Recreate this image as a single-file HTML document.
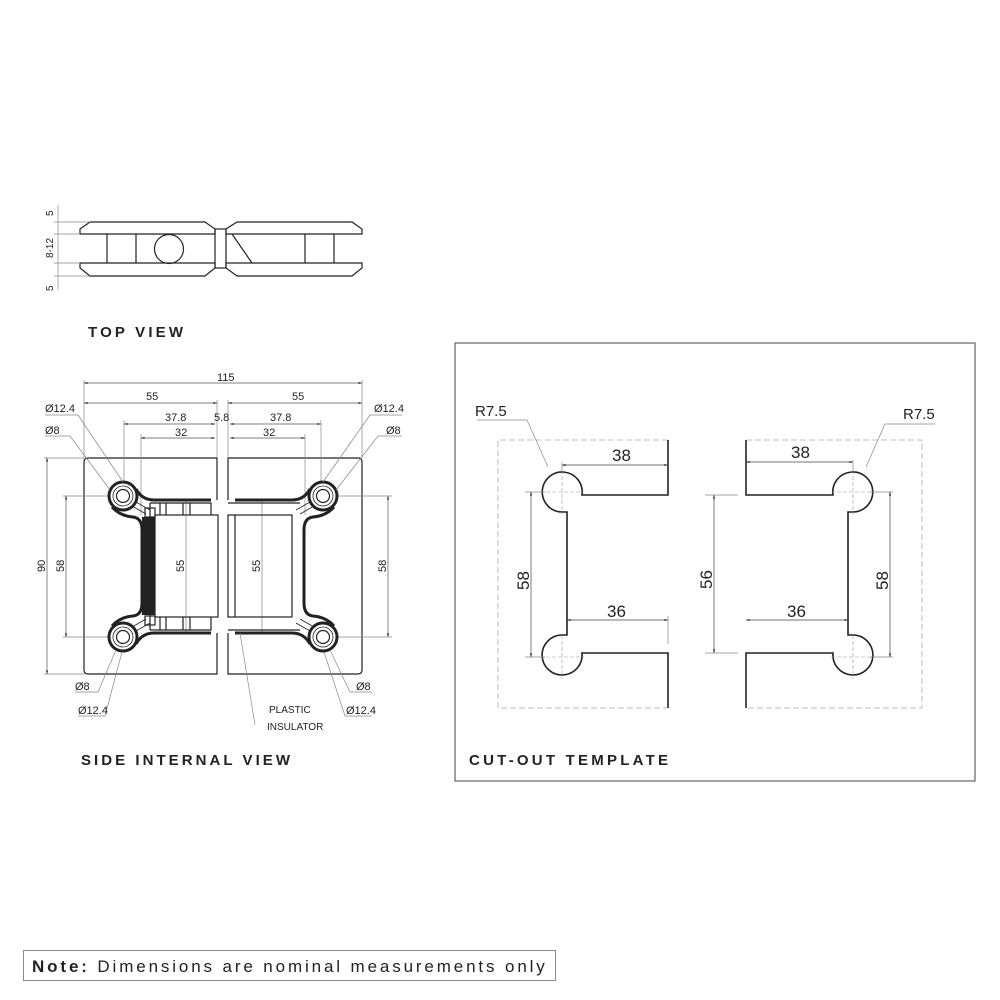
<!DOCTYPE html>
<html><head><meta charset="utf-8"><style>
html,body{margin:0;padding:0;background:#fff}
svg{display:block}
text{font-family:"Liberation Sans",sans-serif;fill:#222}
.th{stroke:#888;stroke-width:0.7;fill:none}
.m{stroke:#222;stroke-width:1.2;fill:none}
.k{stroke:#222;stroke-width:3;fill:none}
.h{font-weight:bold;font-size:15px;letter-spacing:2px}
</style></head><body>
<svg width="1000" height="1000" viewBox="0 0 1000 1000" xmlns="http://www.w3.org/2000/svg">
<defs>
<marker id="a" viewBox="0 0 10 10" refX="10" refY="5" markerWidth="7" markerHeight="5" orient="auto-start-reverse"><path d="M0,2 L10,5 L0,8z" fill="#222"/></marker>
</defs>

<!-- TOP VIEW -->
<g class="m">
<path d="M90,222 L205,222 L215,229 L215,234 L80,234 L80,229 Z"/>
<path d="M80,263 L215,263 L215,268 L205,276 L90,276 L80,268 Z"/>
<path d="M237,222 L352,222 L362,229 L362,234 L226,234 L226,229 Z"/>
<path d="M226,263 L362,263 L362,268 L352,276 L237,276 L226,268 Z"/>
<rect x="215" y="229" width="11" height="39"/>
<line x1="107" y1="234" x2="107" y2="263"/><line x1="136" y1="234" x2="136" y2="263"/>
<circle cx="169" cy="249" r="14.5"/>
<line x1="232" y1="234" x2="252" y2="263"/>
<line x1="305" y1="234" x2="305" y2="263"/><line x1="334" y1="234" x2="334" y2="263"/>
</g>
<g class="th"><line x1="58" y1="205" x2="58" y2="290"/>
<line x1="54" y1="222" x2="90" y2="222"/><line x1="54" y1="234" x2="80" y2="234"/><line x1="54" y1="263" x2="80" y2="263"/><line x1="54" y1="276" x2="90" y2="276"/></g>
<text transform="translate(53,216) rotate(-90)" style="font-size:10px">5</text>
<text transform="translate(53,258) rotate(-90)" style="font-size:10px">8-12</text>
<text transform="translate(53,291) rotate(-90)" style="font-size:10px">5</text>
<text class="h" x="88" y="337" textLength="97">TOP VIEW</text>

<!-- SIDE INTERNAL VIEW -->
<g class="m">
<path d="M217,500 L217,458 L88,458 Q84,458 84,462 L84,670 Q84,674 88,674 L217,674 L217,633"/>
<path d="M228,500 L228,458 L358,458 Q362,458 362,462 L362,670 Q362,674 358,674 L228,674 L228,633"/>
</g>
<g class="th">
<line x1="84" y1="380" x2="84" y2="458"/><line x1="362" y1="380" x2="362" y2="458"/>
<line x1="217" y1="400" x2="217" y2="458"/><line x1="228" y1="400" x2="228" y2="458"/>
<line x1="124" y1="420" x2="124" y2="482"/><line x1="321" y1="420" x2="321" y2="482"/>
<line x1="141" y1="434" x2="141" y2="515"/><line x1="305" y1="434" x2="305" y2="515"/>
<line x1="44" y1="458" x2="84" y2="458"/><line x1="44" y1="674" x2="84" y2="674"/>
<line x1="63" y1="496" x2="108" y2="496"/><line x1="63" y1="637" x2="108" y2="637"/>
<line x1="338" y1="496" x2="392" y2="496"/><line x1="338" y1="637" x2="392" y2="637"/>
<line x1="186" y1="500" x2="186" y2="633"/><line x1="262" y1="500" x2="262" y2="633"/>
</g>
<g class="th" marker-start="url(#a)" marker-end="url(#a)" style="stroke:#555">
<line x1="84" y1="383" x2="362" y2="383"/>
<line x1="84" y1="403" x2="217" y2="403"/><line x1="228" y1="403" x2="362" y2="403"/>
<line x1="124" y1="424" x2="215" y2="424"/><line x1="230" y1="424" x2="321" y2="424"/>
<line x1="141" y1="438" x2="215" y2="438"/><line x1="230" y1="438" x2="305" y2="438"/>
<line x1="47" y1="458" x2="47" y2="674"/>
<line x1="66" y1="496" x2="66" y2="637"/><line x1="388" y1="496" x2="388" y2="637"/>
</g>
<g style="font-size:11px">
<text x="217" y="381">115</text>
<text x="146" y="400">55</text><text x="292" y="400">55</text>
<text x="165" y="421">37.8</text><text x="270" y="421">37.8</text>
<text x="214" y="421">5.8</text>
<text x="175" y="436">32</text><text x="263" y="436">32</text>
<text transform="translate(45,572) rotate(-90)">90</text>
<text transform="translate(64,572) rotate(-90)">58</text>
<text transform="translate(386,572) rotate(-90)">58</text>
<text transform="translate(184,572) rotate(-90)">55</text>
<text transform="translate(260,572) rotate(-90)">55</text>
</g>

<g id="body">
<circle cx="123" cy="496" r="14" class="k"/><circle cx="123" cy="496" r="10" class="m" style="stroke-width:0.8"/><circle cx="123" cy="496" r="6.5" class="m"/>
<circle cx="123" cy="637" r="14" class="k"/><circle cx="123" cy="637" r="10" class="m" style="stroke-width:0.8"/><circle cx="123" cy="637" r="6.5" class="m"/>
<path class="k" d="M136,489 Q142,500 154,500 L211,500"/>
<path class="k" d="M112,507 Q120,516 133,517 Q142,518 142,530 L142,603 Q142,615 133,616 Q120,617 112,626"/>
<path class="k" d="M136,644 Q142,633 154,633 L211,633"/>
<path class="m" style="stroke-width:0.8" d="M132,506 L146,514 M136,502 L150,510"/>
<path class="m" style="stroke-width:0.8" d="M132,627 L146,619 M136,631 L150,623"/>
</g>
<use href="#body" transform="translate(446,0) scale(-1,1)"/>
<rect x="142" y="517" width="13" height="98" fill="#222"/>
<g class="m">
<rect x="155" y="515" width="63" height="102"/>
<path d="M150,503 L211,503 L211,515 M150,503 L150,517 M160,503 L160,515 M166,503 L166,515 M183,503 L183,515 M190,503 L190,515"/>
<path d="M150,630 L211,630 L211,617 M150,630 L150,615 M160,630 L160,617 M166,630 L166,617 M183,630 L183,617 M190,630 L190,617"/>
<rect x="145" y="508" width="10" height="9"/><rect x="145" y="616" width="10" height="9"/>
<rect x="228" y="515" width="64" height="102"/>
<line x1="235" y1="515" x2="235" y2="617"/>
<path d="M228,503 L300,503 M228,630 L300,630"/>
</g>
<g class="th">
<path d="M45,415 L78,415 L123,482"/><path d="M45,436 L70,436 L110,490"/>
<path d="M402,415 L370,415 L323,482"/><path d="M402,436 L378,436 L336,490"/>
<path d="M75,692 L98,692 L116,650"/><path d="M78,716 L105,716 L122,652"/>
<path d="M372,692 L350,692 L330,650"/><path d="M372,716 L345,716 L324,652"/>
<path d="M255,725 L240,633"/>
</g>
<g style="font-size:11px">
<text x="45" y="412">Ø12.4</text><text x="45" y="434">Ø8</text>
<text x="374" y="412">Ø12.4</text><text x="386" y="434">Ø8</text>
<text x="75" y="690">Ø8</text><text x="78" y="714">Ø12.4</text>
<text x="356" y="690">Ø8</text><text x="346" y="714">Ø12.4</text>
<text x="269" y="713" style="font-size:10px">PLASTIC</text><text x="267" y="730" style="font-size:10px">INSULATOR</text>
</g>
<text class="h" x="81" y="765" textLength="211">SIDE INTERNAL VIEW</text>

<!-- CUT-OUT TEMPLATE -->
<rect x="455" y="343" width="520" height="438" fill="none" stroke="#444" stroke-width="1"/>
<g fill="none" stroke="#aaa" stroke-width="0.8" stroke-dasharray="6,3">
<path d="M668,440 L498,440 L498,708 L668,708"/>
<path d="M746,440 L922,440 L922,708 L746,708"/>
</g>
<g class="m" style="stroke-width:1.6">
<path d="M668,440 L668,495 L582,495 A20,20 0 1 0 562,512 L567,512 L567,635 L562,635 A20,20 0 1 0 582,653 L668,653 L668,708"/>
<path d="M746,440 L746,495 L833,495 A20,20 0 1 1 853,512 L848,512 L848,635 L853,635 A20,20 0 1 1 833,653 L746,653 L746,708"/>
</g>
<g stroke="#999" stroke-width="0.6" stroke-dasharray="4,2">
<line x1="540" y1="492" x2="584" y2="492"/><line x1="562" y1="470" x2="562" y2="514"/>
<line x1="540" y1="657" x2="584" y2="657"/><line x1="562" y1="635" x2="562" y2="679"/>
<line x1="831" y1="492" x2="875" y2="492"/><line x1="853" y1="470" x2="853" y2="514"/>
<line x1="831" y1="657" x2="875" y2="657"/><line x1="853" y1="635" x2="853" y2="679"/>
</g>
<g class="th">
<line x1="525" y1="492" x2="545" y2="492"/><line x1="525" y1="657" x2="545" y2="657"/>
<line x1="705" y1="495" x2="738" y2="495"/><line x1="705" y1="653" x2="738" y2="653"/>
<line x1="870" y1="492" x2="893" y2="492"/><line x1="870" y1="657" x2="893" y2="657"/>
<line x1="562" y1="462" x2="562" y2="472"/><line x1="853" y1="460" x2="853" y2="472"/>
<line x1="668" y1="616" x2="668" y2="644"/>
<path d="M477,420 L527,420 L548,467"/>
<path d="M935,424 L885,424 L866,467"/>
</g>
<g class="th" style="stroke:#444" marker-start="url(#a)" marker-end="url(#a)">
<line x1="562" y1="465" x2="668" y2="465"/>
<line x1="567" y1="620" x2="668" y2="620"/>
<line x1="746" y1="462" x2="853" y2="462"/>
<line x1="746" y1="620" x2="848" y2="620"/>
<line x1="531" y1="492" x2="531" y2="657"/>
<line x1="714" y1="495" x2="714" y2="653"/>
<line x1="890" y1="492" x2="890" y2="657"/>
</g>
<g style="font-size:17px">
<text x="612" y="461">38</text><text x="791" y="458">38</text>
<text x="607" y="617">36</text><text x="787" y="617">36</text>
<text x="475" y="416" style="font-size:15px">R7.5</text><text x="903" y="419" style="font-size:15px">R7.5</text>
<text transform="translate(529,590) rotate(-90)">58</text>
<text transform="translate(712,589) rotate(-90)">56</text>
<text transform="translate(888,590) rotate(-90)">58</text>
</g>
<text class="h" x="469" y="765" textLength="201">CUT-OUT TEMPLATE</text>

<rect x="23.5" y="950.5" width="532" height="30" fill="none" stroke="#888" stroke-width="1"/>
<text x="32" y="972" style="font-size:17px" letter-spacing="2.2" textLength="515"><tspan font-weight="bold">Note:</tspan> Dimensions are nominal measurements only</text>
</svg>
</body></html>
